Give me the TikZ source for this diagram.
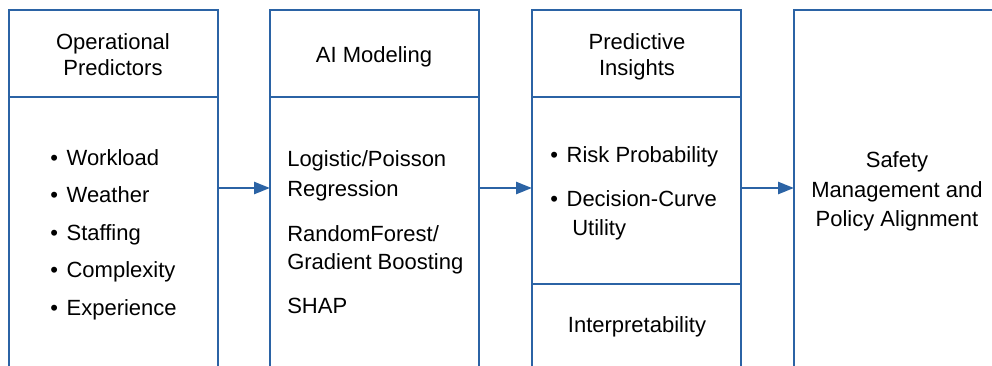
\documentclass[tikz,border=0pt]{standalone}
\usepackage{fontspec}
\setmainfont{Liberation Sans}
\usetikzlibrary{fit,arrows.meta}
\definecolor{boxblue}{HTML}{2B63A5}
\tikzset{
  panel/.style={draw=boxblue, line width=1.9pt, inner sep=0pt, outer sep=0pt},
  arr/.style={draw=boxblue, line width=1.9pt, -{Triangle[length=12pt,width=9pt]}},
  txt/.style={anchor=base, inner sep=0pt, font=\fontsize{16.5}{20}\selectfont},
  ltxt/.style={txt, anchor=base west},
}
\begin{document}
\begin{tikzpicture}[x=0.75pt,y=-0.75pt]
\useasboundingbox (0,0) rectangle (992,365);
\clip (0,0) rectangle (992,365);
% panels
\node[panel, fit={(9,10) (218,97)}] (h1) {};
\node[panel, fit={(9,97) (218,420)}] (b1) {};
\node[panel, fit={(270,10) (479,97)}] (h2) {};
\node[panel, fit={(270,97) (479,420)}] (b2) {};
\node[panel, fit={(532,10) (741,97)}] (h3) {};
\node[panel, fit={(532,97) (741,284)}] (b3) {};
\node[panel, fit={(532,284) (741,420)}] (c3) {};
\node[panel, fit={(794,10) (1010,420)}] (b4) {};
% arrows
\draw[arr] (b1.east |- 0,188) -- (b2.west |- 0,188);
\draw[arr] (b2.east |- 0,188) -- (b3.west |- 0,188);
\draw[arr] (b3.east |- 0,188) -- (b4.west |- 0,188);
% headers
\node[txt] (t1a) at (113,49) {Operational};
\node[txt] (t1b) at (113,75) {Predictors};
\node[txt] (t2a) at (374,62) {AI Modeling};
\node[txt] (t3a) at (637,49) {Predictive};
\node[txt] (t3b) at (637,75) {Insights};
% box 1 list
\node[ltxt] (w1) at (50,165) {\textbullet\hspace{6.5pt}Workload};
\node[ltxt] (w2) at (50,202.5) {\textbullet\hspace{6.5pt}Weather};
\node[ltxt] (w3) at (50,240) {\textbullet\hspace{6.5pt}Staffing};
\node[ltxt] (w4) at (50,277.5) {\textbullet\hspace{6.5pt}Complexity};
\node[ltxt] (w5) at (50,315) {\textbullet\hspace{6.5pt}Experience};
% box 2
\node[ltxt] (m1) at (287,166) {Logistic/Poisson};
\node[ltxt] (m2) at (287,196) {Regression};
\node[ltxt] (m3) at (287,241) {RandomForest/};
\node[ltxt] (m4) at (287,269) {Gradient Boosting};
\node[ltxt] (m5) at (287,313) {SHAP};
% box 3
\node[ltxt] (p1) at (550,162) {\textbullet\hspace{6.5pt}Risk Probability};
\node[ltxt] (p2) at (550,206) {\textbullet\hspace{6.5pt}Decision-Curve};
\node[ltxt] (p3) at (572,235) {Utility};
\node[txt] (q1) at (637,332) {Interpretability};
% box 4
\node[txt] (s1) at (897,167) {Safety};
\node[txt] (s2) at (897,197) {Management and};
\node[txt] (s3) at (897,226) {Policy Alignment};
\end{tikzpicture}
\end{document}
